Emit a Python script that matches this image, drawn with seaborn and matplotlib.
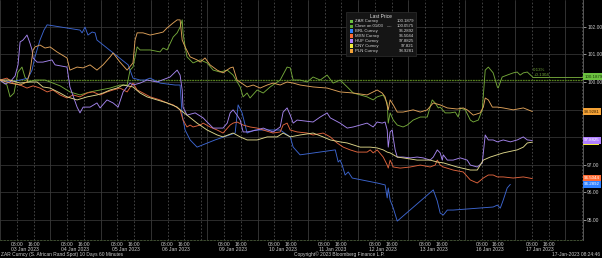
import matplotlib
matplotlib.use("Agg")
import matplotlib.pyplot as plt
import matplotlib.transforms as mtransforms
from matplotlib.patches import Rectangle
import pandas as pd
import seaborn as sns

# ---------------- data ----------------
# x = trading-time hours from 03 Jan 2023 00:00 (weekends compressed)
day_labels = ["03 Jan 2023", "04 Jan 2023", "05 Jan 2023", "06 Jan 2023", "09 Jan 2023",
              "10 Jan 2023", "11 Jan 2023", "12 Jan 2023", "13 Jan 2023", "16 Jan 2023", "17 Jan 2023"]
day_offsets = [0, 24, 48, 72, 99, 123, 147, 171, 195, 222, 246]
hour_labels = ["08:00", "16:00"]

zar_hours = [0, 3.3, 4.8, 6.7, 8.6, 10.5, 11.9, 13.4, 16.7, 21.5, 23.9, 28.7, 33.4, 38.2, 43, 47.8, 52.6,
             57.3, 60.7, 62.1, 63.5, 65.5, 66.9, 71.7, 76.4, 77.9, 79.8, 82.7, 84.6, 86, 87, 87.4, 88.4,
             89.3, 92.2, 95.6, 98.9, 101.8, 105.1, 108.5, 111.3, 114.7, 116.1, 118, 119.4, 122.8, 125.7,
             129, 133.8, 137.1, 138.6, 140, 143.3, 146.7, 149.5, 152.9, 156.2, 159.1, 162.4, 165.8, 168.7,
             175.3, 178.2, 180.1, 183, 184.9, 185.4, 186.3, 187.8, 189.7, 192.5, 194.5, 197.3, 200.7, 204,
             206.4, 207.8, 209.3, 210.2, 212.6, 215, 217.4, 218.8, 219.8, 222.2, 224.6, 226, 228.4, 230.3,
             231.7, 233.2, 235.5, 237.5, 237.9, 239.8, 242.2, 245.1, 247, 248.4, 249.9, 251.8, 254.2]
zar_values = [100.07, 99.89, 99.46, 99.60, 100.36, 100.54, 100.18, 100.00, 100.07, 100.07, 100.00, 99.86,
              99.64, 99.53, 99.64, 99.71, 99.78, 99.89, 99.89, 100.43, 100.54, 101.27, 101.16, 101.16,
              101.09, 101.23, 101.16, 101.63, 101.78, 101.99, 102.25, 101.78, 101.27, 100.91, 100.69,
              100.80, 100.69, 100.43, 100.36, 100.43, 100.25, 99.82, 99.46, 99.60, 99.42, 99.71, 99.60,
              99.82, 100.07, 100.54, 100.51, 100.07, 100.07, 100.00, 100.18, 100.07, 100.25, 99.96, 100.07,
              99.82, 99.60, 99.46, 99.35, 99.46, 99.53, 99.24, 98.51, 98.88, 98.62, 98.44, 98.37, 98.44,
              98.62, 98.73, 98.73, 99.35, 99.24, 99.06, 99.09, 98.88, 98.88, 98.91, 98.73, 99.06, 98.99,
              98.62, 98.55, 98.62, 98.99, 100.43, 100.54, 100.33, 99.82, 99.78, 100.18, 100.25, 100.33,
              100.36, 100.25, 100.33, 100.36, 100.19]

brl_hours = [0, 4.8, 9.6, 13.4, 15.3, 16.7, 19.1, 21, 22.5, 38.2, 39.2, 40.6, 42, 44, 45.4, 46.3, 61.2,
             63.5, 66.9, 69.3, 71.7, 76.4, 83.6, 86, 87, 88.4, 90.8, 94.1, 102.7, 112.3, 113.7, 115.6, 118,
             121.8, 133.8, 138.6, 140, 143.3, 160.1, 161.5, 162.4, 163.4, 164.8, 166.3, 168.2, 180.1,
             183.9, 184.9, 185.4, 186.3, 187.8, 189.7, 206.9, 208.8, 210.2, 211.7, 213.6, 216.4, 235.5,
             237.5, 238.9, 240.3, 242.2, 243.7]
brl_values = [100.07, 100.00, 100.07, 100.14, 100.43, 100.91, 101.52, 101.88, 102.07, 101.88, 101.78,
              101.99, 101.70, 101.81, 101.78, 101.52, 100.62, 100.14, 100.07, 100.07, 100.14, 99.96, 99.89,
              99.89, 98.80, 98.26, 97.90, 97.64, 97.90, 98.15, 99.17, 98.88, 98.15, 98.26, 98.26, 98.01,
              97.64, 97.36, 97.54, 97.10, 97.17, 96.99, 96.63, 96.74, 96.52, 96.34, 96.27, 95.80, 96.16,
              95.72, 95.43, 94.96, 96.09, 95.69, 95.25, 95.18, 95.36, 95.36, 95.47, 95.54, 95.43, 95.72,
              96.16, 96.29]

mxn_hours = [0, 3.3, 6.2, 9.6, 12.9, 15.8, 19.1, 22.5, 25.3, 28.7, 32, 34.9, 38.2, 41.6, 44.4, 47.8, 51.1,
             54, 57.3, 60.7, 63.5, 65.5, 68.3, 71.7, 76.4, 79.8, 82.7, 86, 87.4, 89.3, 90.8, 92.2, 95.6, 97,
             100.3, 103.7, 106.5, 109.9, 111.3, 113.2, 116.1, 119.4, 122.8, 125.7, 130.4, 133.8, 135.2,
             137.1, 138.6, 141.9, 146.7, 149.5, 154.3, 157.7, 161, 163.9, 167.2, 170.6, 175.3, 176.8,
             178.2, 180.1, 183, 184.9, 185.4, 186.3, 187.8, 191.1, 195.9, 200.7, 205.4, 207.8, 208.8,
             210.2, 211.7, 216.4, 221.2, 224.6, 227.9, 230.8, 233.2, 235.5, 237.5, 240.3, 245.1, 249.9, 254.2]
mxn_values = [100.07, 100.14, 99.96, 99.89, 99.78, 99.86, 99.78, 99.64, 99.71, 99.53, 99.42, 99.53, 99.46,
              99.60, 99.64, 99.53, 99.64, 99.71, 99.78, 99.64, 99.96, 99.71, 99.60, 99.46, 99.35, 99.24,
              99.17, 98.99, 98.62, 98.37, 98.44, 98.37, 98.44, 98.51, 98.37, 98.26, 98.15, 98.44, 98.51,
              98.55, 98.44, 98.37, 98.33, 98.26, 98.15, 98.19, 98.44, 98.51, 98.26, 98.19, 98.15, 98.08,
              98.15, 98.01, 97.79, 97.64, 97.54, 97.46, 97.46, 97.54, 97.43, 97.54, 97.28, 96.99, 96.88,
              97.17, 96.92, 96.88, 96.92, 96.99, 96.92, 96.99, 97.17, 96.99, 96.92, 96.81, 96.74, 96.45,
              96.34, 96.52, 96.63, 96.63, 96.56, 96.56, 96.52, 96.56, 96.50]

huf_hours = [0, 2.4, 4.8, 7.2, 8.6, 9.6, 11, 12.9, 14.3, 15.3, 15.8, 17.7, 20.5, 24.8, 26.3, 32, 33.4, 36.8,
             38.2, 39.7, 43, 46.3, 47.8, 51.1, 54, 56.4, 58.8, 62.1, 63.5, 66.9, 70.2, 75, 81.2, 84.6, 86,
             87, 87.4, 89.3, 93.2, 97, 98.9, 101.8, 106.5, 108.5, 109.9, 111.3, 113.2, 114.7, 116.1, 118,
             122.8, 125.7, 130.4, 133.8, 135.2, 137.1, 138.6, 140, 141.9, 149.5, 152.9, 156.2, 157.7,
             162.4, 165.8, 168.7, 172, 175.3, 178.2, 180.1, 182.5, 183.9, 184.9, 185.4, 186.3, 187.3,
             187.8, 188.7, 189.7, 192.5, 195.9, 199.2, 202.1, 205.4, 206.9, 208.8, 210.2, 211.2, 211.7,
             213.6, 216.4, 219.8, 223.1, 224.6, 227.9, 230.3, 231.7, 233.2, 235.5, 237.5, 240.3, 243.7,
             247, 249.9, 251.8, 254.2]
huf_values = [100.07, 99.93, 100.00, 100.22, 100.62, 101.45, 101.52, 101.70, 101.41, 101.16, 100.87,
              100.72, 100.72, 100.80, 100.62, 100.54, 99.82, 99.09, 98.88, 99.09, 99.09, 99.24, 99.06,
              99.35, 99.24, 99.09, 99.64, 99.96, 99.89, 99.96, 100.07, 100.00, 100.18, 100.43, 100.25,
              99.71, 99.09, 98.80, 98.88, 98.70, 98.55, 98.33, 98.33, 98.51, 98.88, 98.99, 98.80, 98.62,
              98.19, 98.19, 98.26, 98.33, 98.19, 98.37, 98.91, 99.06, 98.80, 98.51, 98.62, 98.55, 98.73,
              98.88, 98.70, 98.51, 98.33, 98.37, 98.44, 98.51, 98.37, 98.55, 98.51, 98.55, 98.26, 97.64,
              98.19, 98.26, 97.97, 97.54, 97.28, 97.28, 97.25, 97.28, 97.25, 97.17, 97.28, 97.54, 97.43,
              97.17, 97.36, 97.17, 97.17, 97.25, 97.17, 96.99, 96.92, 97.07, 98.08, 97.90, 97.90, 97.83,
              97.90, 97.83, 97.90, 98.01, 97.90, 97.88]

cny_hours = [0, 4.8, 9.6, 14.3, 17.7, 20.5, 23.9, 28.7, 32, 36.8, 41.6, 46.3, 49.2, 52.6, 55.9, 58.8, 63.5,
             66.9, 70.2, 75, 79.8, 84.6, 86, 89.3, 94.1, 98.9, 103.7, 106.5, 111.3, 114.7, 118, 122.8,
             127.6, 132.3, 135.2, 138.6, 143.3, 149.5, 154.3, 157.7, 162.4, 165.8, 172, 176.8, 180.1, 183,
             184.9, 186.3, 189.7, 192.5, 199.2, 205.4, 208.8, 211.7, 218.3, 224.6, 227.9, 230.8, 234.1,
             240.3, 247, 249.9, 251.8, 254.2]
cny_values = [100.07, 100.07, 99.96, 100.00, 100.00, 99.82, 99.78, 99.60, 99.46, 99.35, 99.46, 99.53,
              99.60, 99.71, 99.78, 99.89, 99.82, 99.60, 99.46, 99.35, 99.24, 99.09, 98.99, 98.80, 98.51,
              98.26, 98.08, 98.01, 98.15, 98.01, 97.90, 97.90, 98.01, 98.01, 98.15, 98.01, 98.08, 98.15,
              98.01, 97.90, 97.83, 97.79, 97.64, 97.64, 97.61, 97.54, 97.46, 97.43, 97.28, 97.25, 97.17,
              97.17, 97.10, 97.07, 96.92, 96.81, 96.81, 97.17, 97.28, 97.43, 97.54, 97.64, 97.79, 97.82]

pln_hours = [0, 4.8, 9.6, 12.9, 14.3, 15.8, 16.7, 19.1, 21.5, 23.9, 27.2, 32, 33.4, 36.8, 39.7, 43, 46.3,
             49.2, 52.6, 54, 57.3, 60.7, 63.5, 64.5, 65.5, 68.3, 71.7, 76.4, 77.9, 79.8, 82.7, 84.6, 86,
             87, 88.4, 90.8, 94.1, 95.6, 97.9, 100.3, 103.7, 106.5, 109.9, 111.3, 113.2, 118, 120.9, 124.2,
             127.6, 130.4, 133.8, 137.1, 140, 143.3, 149.5, 156.2, 162.4, 168.7, 175.3, 180.1, 182.5,
             183.9, 185.4, 186.3, 187.8, 189.7, 192.5, 197.3, 200.7, 204, 206.9, 210.2, 213.6, 218.3,
             221.2, 223.1, 226, 229.3, 230.8, 231.7, 233.2, 235.1, 237.5, 240.3, 245.1, 249.9, 254.2]
pln_values = [100.07, 99.96, 99.89, 100.00, 100.36, 101.16, 101.27, 101.34, 101.23, 101.27, 101.09,
              100.87, 100.43, 100.54, 100.51, 100.62, 100.43, 100.62, 100.91, 101.05, 100.72, 100.43,
              100.69, 101.52, 101.78, 101.78, 101.70, 101.78, 101.81, 101.96, 102.14, 102.25, 102.25,
              101.52, 101.27, 100.91, 100.80, 100.72, 100.87, 100.62, 100.43, 100.33, 100.51, 100.54,
              100.07, 99.82, 99.89, 99.78, 99.89, 99.96, 99.89, 100.00, 99.96, 99.89, 99.82, 99.78, 99.64,
              99.60, 99.53, 99.71, 99.60, 99.46, 98.99, 99.35, 99.17, 98.91, 98.91, 98.99, 98.91, 98.99,
              99.24, 99.17, 99.06, 99.02, 99.06, 98.99, 98.80, 98.88, 99.09, 99.42, 99.35, 99.09, 99.09,
              99.06, 98.99, 99.06, 98.93]

close_value = 100.0575
legend_names = ["ZAR Curncy", "Close on 01/03", "BRL Curncy", "MXN Curncy", "HUF Curncy", "CNY Curncy", "PLN Curncy"]
legend_values = ["100.1879", "100.0575", "96.2892", "96.5044", "97.8825", "97.821", "98.9281"]
zar_change = ["0.13%", "+0.1304"]
footer_left = "ZAR Curncy (S. African Rand Spot) 10 Days 60 Minutes"
footer_mid = "Copyright\u00a9 2023 Bloomberg Finance L.P."
footer_right = "17-Jan-2023 08:24:46"

# ---------------- styling ----------------
line_colors = {"ZAR": "#74a83a", "BRL": "#3d66d0", "MXN": "#e0653e", "HUF": "#a585ee",
               "CNY": "#ddd68a", "PLN": "#dfa25a"}
tag_colors = {"ZAR": "#6cc040", "Close": "#5fae35", "BRL": "#2f80ff", "MXN": "#ff6a32",
              "HUF": "#b080ff", "CNY": "#f2ec3c", "PLN": "#f4a236"}

sns.set_style("dark", {"axes.facecolor": "black", "figure.facecolor": "black"})
plt.rcParams["font.family"] = ["Liberation Sans", "DejaVu Sans"]

frames = []
for name, hrs, vals in [("ZAR", zar_hours, zar_values), ("BRL", brl_hours, brl_values),
                        ("MXN", mxn_hours, mxn_values), ("HUF", huf_hours, huf_values),
                        ("CNY", cny_hours, cny_values), ("PLN", pln_hours, pln_values)]:
    frames.append(pd.DataFrame({"series": name, "hour": hrs, "value": vals}))
df = pd.concat(frames, ignore_index=True)

fig = plt.figure(figsize=(6.02, 2.58), dpi=100)
fig.patch.set_facecolor("black")
ax = fig.add_axes([0.0, 18 / 258, 583 / 602, 240 / 258])
ax.set_facecolor("black")

xmax = 278.4
ax.set_xlim(0, xmax)
ax.set_ylim(94.275, 102.97)

# grid
for v in range(95, 103):
    ax.axhline(v, color="#333333", lw=0.6, zorder=0)
for off in day_offsets + [270]:
    ax.axvline(off, color="#3a3a3a", lw=0.6, zorder=0)
for off in day_offsets + [270]:
    for h in (8, 16):
        if off + h < xmax:
            ax.axvline(off + h, color="#5a5a5a", lw=0.5, ls=(0, (2.5, 2.5)), zorder=0)
for fri in (96, 219):
    ax.axvline(fri, color="#5a5a5a", lw=0.5, ls=(0, (2.5, 2.5)), zorder=0)

# close line
ax.axhline(close_value, color="#56801f", lw=0.9, ls=(0, (1.5, 0.6)), zorder=1)

order = ["ZAR", "BRL", "MXN", "HUF", "CNY", "PLN"]
sns.lineplot(data=df, x="hour", y="value", hue="series", hue_order=order,
             palette=line_colors, estimator=None, sort=False, lw=0.65, legend=False, ax=ax, zorder=2)

# last price line for ZAR
ax.plot([zar_hours[-1], xmax], [zar_values[-1], zar_values[-1]], color="#74a83a", lw=0.65, zorder=2)
ax.text(zar_hours[-1] + 0.5, 100.43, zar_change[0], color="#74a83a", fontsize=3.2, va="center", ha="left")
ax.text(zar_hours[-1] + 0.5, 100.25, zar_change[1], color="#74a83a", fontsize=3.2, va="center", ha="left")

# axes & ticks
ax.yaxis.tick_right()
ax.set_yticks(range(95, 103))
ax.set_yticklabels(["" if v in (98, 99) else f"{v:.2f}" for v in range(95, 103)])
ax.tick_params(axis="y", colors="#cccccc", labelsize=3.5, length=2, width=0.5, pad=1.0, labelcolor="#cccccc")
xt, xl = [], []
for off in day_offsets:
    xt += [off + 8, off + 16]
    xl += hour_labels
ax.set_xticks(xt)
ax.set_xticklabels(xl)
ax.tick_params(axis="x", colors="#cccccc", labelsize=3.6, length=0, pad=1.5, labelcolor="#cccccc")
ax.set_xlabel("")
ax.set_ylabel("")
for s in ["top", "left"]:
    ax.spines[s].set_visible(False)
ax.spines["right"].set_color("#666666")
ax.spines["right"].set_linewidth(0.6)
ax.spines["bottom"].set_color("#4a5a3a")
ax.spines["bottom"].set_linewidth(0.6)
ax.spines["bottom"].set_linestyle((0, (2, 2)))

trans = mtransforms.blended_transform_factory(ax.transData, ax.transAxes)
for off, lab in zip(day_offsets, day_labels):
    ax.text(off + 12, -0.04, lab, transform=trans, color="#cccccc", fontsize=3.6, ha="center", va="center")

# right-side value tags
ytrans = mtransforms.blended_transform_factory(ax.transAxes, ax.transData)
tags = [("CNY", 97.821, "97.821", "#222222"), ("HUF", 97.8825, "97.8825", "white"),
        ("ZAR", 100.1879, "100.1879", "#1a3a0a"), ("PLN", 98.9281, "98.9281", "#3a2000"),
        ("MXN", 96.5044, "96.5044", "white"), ("BRL", 96.2892, "96.2892", "white")]
for i, (k, v, txt, tc) in enumerate(tags):
    ax.text(1.002, v, txt, transform=ytrans, fontsize=3.2, color=tc, ha="left", va="center",
            clip_on=False, zorder=5 + i,
            bbox=dict(boxstyle="square,pad=0.3", fc=tag_colors[k], ec="none"))

# legend box
lx0, lx1 = 346 / 602, 416 / 602
ly_top, ly_bot = 1 - 12 / 258, 1 - 56 / 258
fig.patches.append(Rectangle((lx0, ly_bot), lx1 - lx0, ly_top - ly_bot, transform=fig.transFigure,
                             fc="#151515", ec="#2e2e2e", lw=0.5, zorder=10))
fig.text(381 / 602, 1 - 16.5 / 258, "Last Price", color="#e0e0e0", fontsize=3.5, ha="center", va="center", zorder=11)
sq_keys = ["ZAR", "Close", "BRL", "MXN", "HUF", "CNY", "PLN"]
for i, (k, n, val) in enumerate(zip(sq_keys, legend_names, legend_values)):
    ypx = 21.3 + 4.95 * i
    yf = 1 - ypx / 258
    fig.patches.append(Rectangle((350 / 602, yf - 1.7 / 258), 3.4 / 602, 3.4 / 258, transform=fig.transFigure,
                                 fc=tag_colors[k], ec="none", zorder=11))
    fig.text(355 / 602, yf, n, color="#d8d8d8", fontsize=3.1, ha="left", va="center", zorder=11)
    if k == "Close":
        fig.text(387 / 602, yf, "----", color="#d8d8d8", fontsize=3.1, ha="left", va="center", zorder=11)
    fig.text(414 / 602, yf, val, color="#d8d8d8", fontsize=3.1, ha="right", va="center", zorder=11)

# footer
fig.text(1 / 602, 3.5 / 258, footer_left, color="#cccccc", fontsize=3.5, ha="left", va="center")
fig.text(294 / 602, 3.5 / 258, footer_mid, color="#cccccc", fontsize=3.5, ha="left", va="center")
fig.text(600 / 602, 3.5 / 258, footer_right, color="#cccccc", fontsize=3.5, ha="right", va="center")

fig.savefig("out.png", dpi=100, facecolor="black")
